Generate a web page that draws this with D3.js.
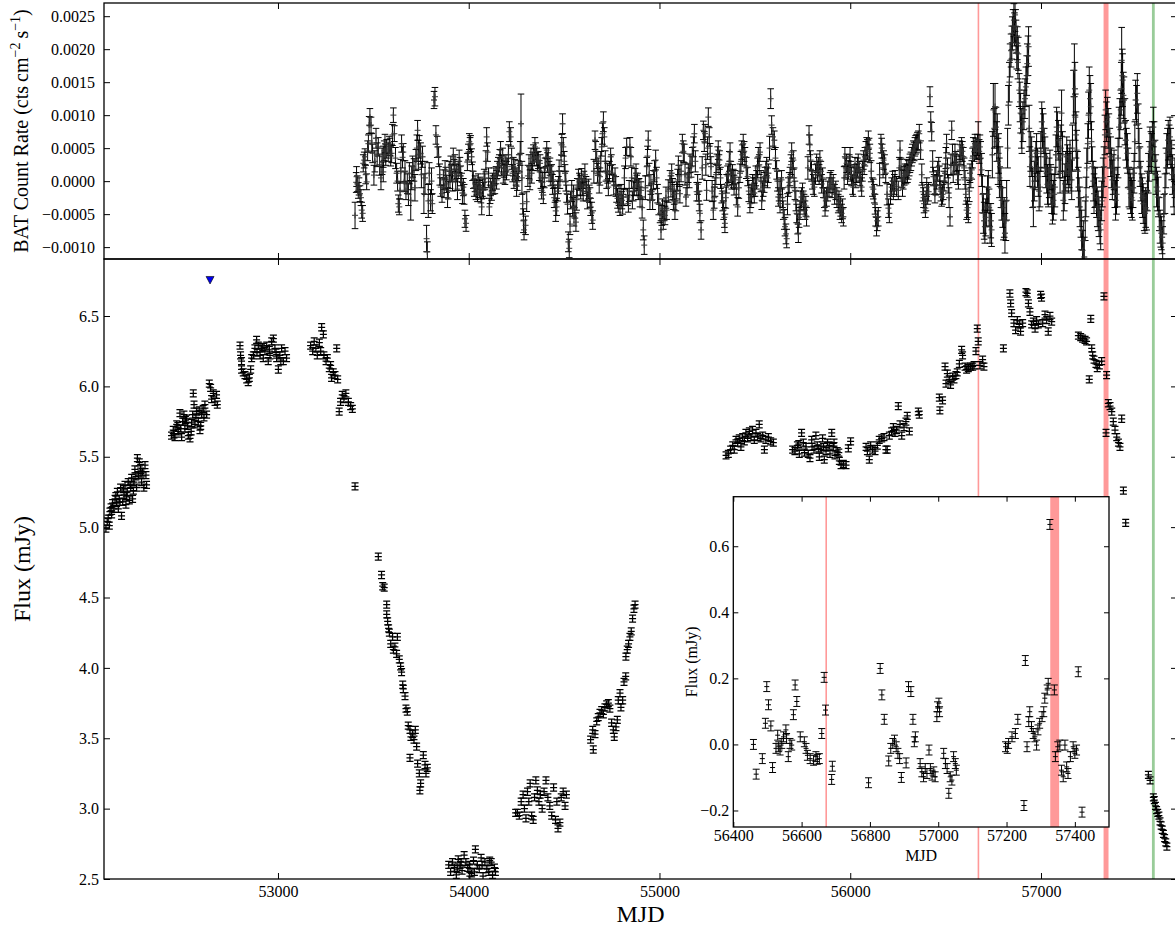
<!DOCTYPE html>
<html><head><meta charset="utf-8">
<script src="https://cdn.jsdelivr.net/npm/d3@7"></script>
<style>body{margin:0;background:#fff} svg{display:block} text{font-family:"Liberation Serif","DejaVu Serif",serif;fill:#000}</style>
</head><body><svg id="c" width="1175" height="931"></svg>
<script>
// ---------------- DATA ----------------
// Swift/BAT count rate: [MJD, rate (1e-4 cts cm^-2 s^-1), error (1e-4)]
const BAT_UNIT = 1e-4;
const batData = [[53404,-5.2,2.0],[53410,-0.2,1.5],[53412,0.7,1.5],[53416,-0.4,1.2],[53421,-1.4,1.2],[53425,-0.8,1.3],[53430,-1.9,1.2],[53435,-2.5,1.2],[53439,-4.4,1.2],[53444,-4.9,1.2],[53447,2.7,1.3],[53452,3.2,1.2],[53456,3.7,1.2],[53460,1.0,1.4],[53465,-0.1,1.2],[53470,4.6,1.5],[53474,5.7,1.3],[53478,8.5,1.3],[53482,9.7,1.3],[53488,8.5,1.2],[53492,5.8,1.4],[53496,4.2,1.4],[53503,0.9,1.5],[53508,3.0,1.6],[53514,6.5,1.5],[53520,4.0,1.8],[53526,5.2,1.4],[53533,2.5,1.6],[53540,0.5,1.8],[53546,3.0,2.0],[53552,3.7,1.6],[53552,1.4,1.5],[53557,4.6,1.5],[53561,5.7,1.4],[53565,4.0,1.6],[53570,4.9,1.4],[53578,4.4,1.4],[53583,5.5,1.3],[53587,5.2,1.3],[53591,3.8,1.5],[53596,4.2,1.4],[53600,7.0,1.6],[53605,10.0,1.1],[53610,7.2,1.2],[53616,3.5,1.6],[53622,1.2,1.5],[53627,0.0,1.5],[53631,-3.4,1.3],[53636,-3.9,1.2],[53640,-1.4,1.3],[53644,1.5,1.8],[53648,5.7,1.3],[53653,3.6,1.6],[53657,4.4,1.3],[53662,-0.1,1.5],[53666,1.5,1.6],[53671,-1.4,1.4],[53678,-0.4,1.5],[53684,-2.0,1.7],[53689,1.2,1.6],[53696,-2.9,3.0],[53701,0.5,1.8],[53706,2.2,1.6],[53713,1.7,1.7],[53718,-1.0,2.0],[53723,3.2,1.6],[53728,5.0,2.0],[53732,7.7,1.5],[53736,4.0,2.2],[53741,5.2,1.7],[53748,4.2,1.6],[53752,1.0,2.0],[53758,3.7,1.6],[53765,-1.9,3.0],[53771,0.5,2.5],[53779,-8.7,2.0],[53783,-10.7,1.5],[53788,-3.0,2.5],[53793,1.2,1.6],[53800,-2.9,1.6],[53805,0.0,2.0],[53809,-3.4,1.5],[53818,12.3,1.3],[53823,12.8,1.4],[53828,7.0,1.4],[53835,5.2,1.6],[53842,3.7,1.5],[53848,1.0,1.6],[53853,-0.9,1.4],[53860,-1.9,1.3],[53867,0.2,1.5],[53871,-1.0,1.5],[53876,1.7,1.4],[53880,0.5,1.6],[53884,-0.4,1.3],[53889,-2.5,1.5],[53893,-1.4,1.3],[53898,1.5,1.5],[53902,0.2,1.3],[53906,2.3,1.5],[53910,1.2,1.3],[53915,0.0,1.5],[53919,3.7,1.3],[53924,1.8,1.5],[53928,2.7,1.3],[53932,0.2,1.6],[53937,1.2,1.3],[53941,-1.2,1.6],[53945,1.7,1.3],[53950,3.0,1.7],[53954,2.2,1.4],[53958,0.8,1.5],[53963,-0.1,1.3],[53967,-1.8,1.6],[53972,-0.9,1.3],[53976,-2.0,1.5],[53980,-5.7,1.3],[53986,-6.4,1.2],[53993,2.9,1.3],[53998,4.4,1.2],[54003,6.0,1.2],[54007,5.5,1.1],[54010,5.7,1.2],[54015,3.7,1.2],[54020,1.5,1.4],[54024,0.2,1.3],[54029,-1.0,1.3],[54033,-0.4,1.2],[54038,-1.5,1.3],[54042,-0.9,1.2],[54046,-1.8,1.3],[54050,-0.1,1.2],[54055,-1.2,1.3],[54059,-0.6,1.2],[54064,-2.0,1.3],[54068,-3.9,1.2],[54072,-1.0,1.3],[54077,-1.4,1.2],[54081,0.4,1.4],[54085,-0.1,1.2],[54090,3.0,1.6],[54094,6.7,1.4],[54099,4.4,1.4],[54104,0.5,1.5],[54108,-3.9,1.3],[54112,-2.0,1.4],[54115,-0.9,1.3],[54120,-1.5,1.4],[54125,-0.1,1.3],[54128,-0.6,1.4],[54132,0.7,1.3],[54137,-0.5,1.4],[54143,0.9,1.3],[54146,0.2,1.4],[54150,1.7,1.3],[54155,2.2,1.4],[54160,2.7,1.3],[54163,3.4,1.4],[54167,4.7,1.3],[54172,2.4,1.5],[54178,3.7,1.3],[54181,1.2,1.5],[54185,1.9,1.3],[54190,1.0,1.5],[54195,2.7,1.3],[54198,1.6,1.4],[54202,2.2,1.3],[54208,4.0,1.5],[54213,7.5,1.5],[54220,6.7,1.4],[54225,3.4,1.6],[54230,1.2,1.3],[54234,2.2,1.4],[54237,0.2,1.3],[54242,1.8,1.5],[54248,0.7,1.3],[54251,-0.8,1.5],[54255,-0.1,1.3],[54260,1.6,1.5],[54265,2.7,1.3],[54270,4.2,1.8],[54274,8.7,4.5],[54279,0.5,2.5],[54283,-3.4,1.6],[54287,-6.0,1.8],[54290,-7.4,1.5],[54298,-6.7,1.4],[54304,-3.1,1.5],[54310,0.8,1.6],[54316,2.2,1.8],[54321,0.2,1.5],[54326,3.4,1.6],[54330,1.2,1.5],[54335,3.0,1.4],[54339,4.2,1.3],[54343,3.6,1.3],[54347,5.2,1.4],[54351,4.5,1.3],[54356,3.7,1.3],[54360,3.0,1.4],[54365,3.2,1.3],[54370,1.6,1.5],[54374,2.7,1.3],[54378,0.5,1.6],[54382,-1.4,1.3],[54386,-0.2,1.5],[54391,-2.1,1.3],[54396,0.5,1.5],[54400,2.0,1.5],[54405,3.6,1.4],[54409,4.7,1.3],[54413,2.8,1.5],[54417,3.7,1.3],[54421,1.5,1.5],[54426,2.2,1.3],[54430,0.8,1.5],[54435,1.2,1.3],[54439,-0.5,1.5],[54443,0.2,1.3],[54448,-2.5,1.5],[54452,-1.9,1.3],[54456,-4.5,1.6],[54461,-3.9,1.3],[54466,-1.5,1.5],[54470,-0.6,1.3],[54474,1.6,1.6],[54478,0.2,1.3],[54484,4.0,1.8],[54488,5.5,1.6],[54492,8.7,1.5],[54496,5.2,1.4],[54501,3.0,1.5],[54505,1.2,1.3],[54509,0.0,1.5],[54513,-1.9,1.3],[54518,-3.5,1.5],[54522,-9.2,1.5],[54527,-10.2,1.4],[54531,-6.5,1.6],[54534,-2.9,1.3],[54540,-1.5,1.6],[54545,-3.9,1.4],[54549,-2.2,1.6],[54552,-5.4,1.4],[54557,-4.0,1.6],[54562,-6.2,1.4],[54566,-2.8,1.6],[54569,-0.9,1.3],[54575,0.3,1.5],[54580,-0.1,1.3],[54584,-0.6,1.5],[54587,-1.4,1.3],[54592,0.4,1.5],[54597,-0.9,1.3],[54600,-1.6,1.4],[54604,0.2,1.3],[54609,1.0,1.6],[54615,-0.6,1.3],[54618,-1.5,1.5],[54622,-2.9,1.3],[54627,-1.2,1.5],[54632,-1.9,1.3],[54636,-2.5,1.5],[54639,-3.9,1.3],[54645,-4.8,1.6],[54650,-5.9,1.4],[54656,1.5,1.8],[54662,6.2,1.4],[54666,4.5,1.5],[54671,3.2,1.3],[54675,1.2,1.5],[54679,2.2,1.3],[54684,-0.2,1.6],[54688,0.7,1.3],[54692,3.0,1.5],[54697,5.2,1.4],[54701,7.2,1.6],[54706,9.0,1.5],[54711,6.7,1.4],[54716,3.0,1.6],[54719,1.5,1.5],[54723,0.2,1.3],[54728,1.2,1.5],[54732,-0.9,1.3],[54738,1.5,1.5],[54744,3.7,1.3],[54748,2.5,1.5],[54754,1.2,1.3],[54760,-0.6,1.5],[54767,0.7,1.3],[54771,-0.8,1.5],[54775,-1.9,1.3],[54780,-2.6,1.5],[54784,-3.4,1.3],[54788,-2.2,1.5],[54793,-3.9,1.3],[54798,-2.0,1.5],[54803,-2.9,1.3],[54807,-3.5,1.5],[54811,-2.4,1.3],[54816,0.5,1.8],[54822,3.5,1.6],[54828,5.2,1.3],[54832,-2.4,1.3],[54837,-3.4,1.3],[54841,-1.5,1.6],[54845,5.2,1.4],[54850,3.7,1.4],[54854,0.5,1.6],[54858,-2.9,1.3],[54863,-1.5,1.5],[54868,-0.9,1.3],[54872,0.4,1.5],[54877,1.2,1.4],[54881,-0.6,1.5],[54885,-0.1,1.3],[54889,-1.3,1.5],[54893,-0.9,1.3],[54898,-2.4,1.5],[54903,-1.4,1.3],[54909,-4.0,1.6],[54915,-7.4,1.5],[54920,-9.7,1.4],[54926,-1.0,1.8],[54933,2.2,1.4],[54937,3.8,1.5],[54941,6.2,1.4],[54946,1.0,1.7],[54950,-2.9,1.4],[54955,-0.5,1.5],[54959,-1.6,1.3],[54964,-2.8,1.5],[54968,0.2,1.4],[54974,1.5,1.6],[54980,3.2,1.5],[54985,0.5,1.6],[54990,-1.9,1.4],[54996,-3.5,1.6],[55003,-4.9,1.4],[55008,-7.4,1.4],[55012,-5.2,1.5],[55016,-4.2,1.5],[55020,-5.9,1.4],[55025,-4.5,1.5],[55029,-5.2,1.4],[55034,-2.5,1.6],[55038,-4.4,1.4],[55046,-1.5,1.7],[55055,0.2,1.4],[55060,-0.8,1.6],[55064,1.2,1.4],[55069,-1.2,1.6],[55073,-2.9,1.4],[55077,-2.0,1.5],[55081,-4.4,1.4],[55086,-3.0,1.5],[55090,-1.4,1.3],[55095,0.2,1.6],[55099,2.4,1.4],[55103,0.8,1.6],[55107,-1.9,1.4],[55113,1.5,1.6],[55120,5.7,1.4],[55125,4.5,1.6],[55130,4.2,1.4],[55134,1.0,1.6],[55139,-2.4,1.4],[55145,-0.5,1.6],[55151,1.2,1.4],[55156,0.5,1.5],[55160,2.7,1.4],[55166,2.2,1.6],[55172,3.7,1.4],[55178,5.2,1.5],[55183,7.2,1.4],[55188,3.0,1.6],[55195,-1.6,1.4],[55200,-0.5,1.5],[55204,-1.6,1.4],[55208,-3.0,1.5],[55212,-4.9,1.4],[55218,-7.4,1.4],[55224,2.0,1.7],[55230,7.7,1.4],[55235,6.0,1.5],[55239,7.2,1.4],[55243,2.5,1.6],[55247,-1.4,1.5],[55252,5.0,1.7],[55256,9.7,1.4],[55261,6.7,1.4],[55266,4.2,1.5],[55270,2.2,1.5],[55276,-1.5,1.6],[55282,-4.4,1.4],[55287,-2.5,1.6],[55291,-0.9,1.4],[55296,1.0,1.5],[55301,2.7,1.4],[55305,3.8,1.4],[55308,4.7,1.4],[55312,2.5,1.5],[55315,3.2,1.4],[55320,0.5,1.6],[55326,-1.9,1.4],[55331,-3.0,1.5],[55336,-4.4,1.4],[55340,-5.5,1.5],[55343,-6.4,1.4],[55348,-2.5,1.6],[55352,-0.4,1.4],[55357,0.8,1.5],[55361,1.2,1.4],[55366,3.0,1.5],[55370,4.4,1.4],[55374,1.5,1.5],[55378,0.2,1.4],[55383,1.0,1.5],[55387,0.4,1.4],[55391,-0.6,1.5],[55396,0.2,1.4],[55403,-2.0,1.6],[55410,-3.9,1.4],[55416,-1.0,1.6],[55422,1.2,1.4],[55427,3.0,1.5],[55431,4.7,1.4],[55435,4.0,1.5],[55439,5.7,1.4],[55444,4.5,1.5],[55448,3.7,1.4],[55455,2.0,1.6],[55462,0.7,1.4],[55468,-1.5,1.6],[55474,-3.4,1.4],[55479,-2.5,1.5],[55483,-1.9,1.4],[55488,-0.5,1.5],[55492,-0.9,1.4],[55497,-1.8,1.5],[55501,-0.9,1.4],[55505,0.8,1.5],[55509,0.2,1.4],[55514,2.0,1.5],[55518,3.7,1.4],[55523,2.5,1.5],[55527,4.4,1.4],[55532,0.0,1.6],[55536,-2.9,1.4],[55540,-1.5,1.5],[55544,-0.9,1.4],[55549,-0.2,1.5],[55553,0.7,1.4],[55558,1.5,1.5],[55562,2.2,1.4],[55566,0.5,1.5],[55571,1.2,1.4],[55577,5.0,1.8],[55583,12.5,1.5],[55588,8.5,1.4],[55595,6.7,1.4],[55602,6.2,1.4],[55608,3.5,1.6],[55614,1.7,1.4],[55618,0.0,1.5],[55623,-2.4,1.4],[55627,-1.5,1.5],[55632,-3.4,1.4],[55636,-1.0,1.5],[55640,0.2,1.4],[55645,-2.5,1.5],[55649,-4.4,1.4],[55654,-5.8,1.5],[55658,-6.9,1.4],[55663,-8.0,1.5],[55667,-8.7,1.4],[55671,-3.5,1.6],[55675,-0.9,1.4],[55680,-0.2,1.5],[55684,0.7,1.4],[55689,2.5,1.5],[55693,4.4,1.4],[55697,2.0,1.5],[55702,3.2,1.4],[55706,0.5,1.5],[55710,-1.4,1.4],[55715,-3.0,1.5],[55719,-4.9,1.4],[55724,-6.5,1.5],[55728,-7.9,1.4],[55732,-5.5,1.5],[55737,-4.4,1.4],[55741,-3.0,1.5],[55745,-2.4,1.4],[55750,-1.8,1.5],[55754,-2.9,1.4],[55758,-3.5,1.5],[55763,-4.4,1.4],[55767,-3.8,1.5],[55771,-5.4,1.4],[55778,2.0,1.7],[55784,7.0,1.4],[55788,5.5,1.5],[55792,3.2,1.4],[55797,1.5,1.5],[55801,0.2,1.4],[55806,-0.5,1.5],[55812,-0.9,1.4],[55818,1.0,1.5],[55824,2.7,1.4],[55828,1.5,1.5],[55833,2.2,1.4],[55837,1.0,1.5],[55841,3.2,1.4],[55846,1.5,1.5],[55850,-0.4,1.4],[55855,0.5,1.5],[55859,-1.1,1.4],[55864,-2.5,1.5],[55868,-3.9,1.4],[55872,-3.0,1.5],[55876,-2.4,1.4],[55882,-1.5,1.5],[55889,-0.9,1.4],[55894,-0.2,1.5],[55899,0.2,1.4],[55905,-1.0,1.5],[55911,-0.4,1.4],[55918,-2.0,1.5],[55924,-1.4,1.4],[55930,-2.5,1.5],[55937,-3.4,1.4],[55941,-3.0,1.5],[55946,-4.4,1.4],[55950,-3.8,1.5],[55955,-4.9,1.4],[55960,-4.2,1.5],[55964,-5.4,1.4],[55968,0.5,1.7],[55972,3.7,1.4],[55977,2.0,1.5],[55981,2.7,1.4],[55986,1.0,1.5],[55990,1.7,1.4],[55995,2.5,1.5],[55999,3.7,1.4],[56003,1.5,1.5],[56007,0.7,1.4],[56012,-0.5,1.5],[56016,-0.9,1.4],[56020,1.0,1.5],[56025,2.2,1.4],[56029,0.5,1.5],[56034,1.2,1.4],[56038,2.0,1.5],[56042,2.7,1.4],[56047,1.5,1.5],[56051,0.7,1.4],[56056,0.0,1.5],[56060,-0.9,1.4],[56064,1.5,1.5],[56069,3.2,1.4],[56073,2.5,1.5],[56077,3.7,1.4],[56082,4.5,1.5],[56086,5.2,1.4],[56090,4.8,1.5],[56095,6.2,1.4],[56099,5.0,1.5],[56103,4.2,1.4],[56110,1.5,1.6],[56116,-0.9,1.4],[56121,-1.2,1.5],[56126,-1.9,1.4],[56130,-3.5,1.5],[56133,-5.4,1.4],[56138,-6.9,1.4],[56142,-6.0,1.5],[56147,-5.4,1.4],[56154,1.0,1.7],[56161,5.7,1.4],[56165,5.0,1.5],[56168,4.2,1.4],[56172,2.0,1.5],[56175,3.2,1.4],[56180,2.5,1.5],[56186,1.2,1.4],[56193,-2.0,1.6],[56200,-4.1,1.4],[56205,-4.9,1.4],[56211,-2.0,1.5],[56217,-0.9,1.4],[56222,0.0,1.5],[56226,-1.4,1.4],[56231,-0.5,1.5],[56235,0.2,1.4],[56243,-0.8,1.5],[56252,-1.4,1.4],[56257,2.0,1.6],[56261,4.7,1.4],[56266,2.0,1.5],[56270,0.4,1.4],[56274,-0.9,1.4],[56278,0.2,1.4],[56283,0.8,1.4],[56287,1.2,1.4],[56292,1.0,1.4],[56296,1.9,1.4],[56300,1.2,1.4],[56304,1.7,1.4],[56309,2.2,1.4],[56313,2.7,1.4],[56318,3.0,1.4],[56322,3.7,1.4],[56326,4.2,1.4],[56331,4.7,1.4],[56335,4.5,1.4],[56339,5.2,1.4],[56343,5.5,1.4],[56348,5.7,1.4],[56352,6.0,1.4],[56357,6.2,1.4],[56362,7.2,1.4],[56369,4.7,1.4],[56375,1.0,1.6],[56380,-1.6,1.4],[56384,-2.5,1.5],[56387,-3.4,1.4],[56394,-4.1,1.4],[56397,-3.0,1.5],[56401,-0.9,1.4],[56406,-2.0,1.5],[56411,-1.6,1.4],[56418,12.8,1.5],[56422,9.0,1.5],[56427,7.5,1.4],[56432,3.0,1.6],[56436,0.7,1.4],[56440,-0.5,1.5],[56444,-1.9,1.4],[56449,-0.6,1.5],[56453,0.2,1.4],[56458,1.5,1.5],[56464,2.2,1.4],[56468,0.8,1.5],[56471,-0.6,1.4],[56475,-1.5,1.5],[56479,-2.4,1.4],[56484,-2.0,1.5],[56488,-1.4,1.4],[56493,0.0,1.5],[56497,1.2,1.4],[56501,3.5,1.6],[56505,5.7,1.4],[56510,2.0,1.5],[56514,-0.4,1.4],[56518,-2.5,1.5],[56523,-5.4,1.4],[56528,2.5,1.6],[56532,7.7,1.4],[56536,4.0,1.6],[56540,1.2,1.4],[56545,2.5,1.5],[56549,4.2,1.4],[56554,3.0,1.5],[56558,2.4,1.4],[56563,1.0,1.5],[56567,0.2,1.4],[56571,2.5,1.5],[56575,4.7,1.4],[56580,4.0,1.5],[56584,5.2,1.4],[56588,4.5,1.5],[56593,3.7,1.4],[56597,2.0,1.5],[56602,0.2,1.4],[56606,-2.0,1.5],[56610,-4.4,1.4],[56615,-4.0,1.5],[56619,-4.9,1.4],[56624,-1.5,1.6],[56628,1.2,1.4],[56632,0.5,1.5],[56637,1.7,1.4],[56641,3.5,1.5],[56645,5.2,1.4],[56650,4.5,1.5],[56654,5.7,1.4],[56658,5.0,1.5],[56663,4.7,1.4],[56667,5.5,1.6],[56671,6.2,2.8],[56676,4.5,1.8],[56680,5.2,1.8],[56684,3.5,2.5],[56689,1.7,2.5],[56693,-2.0,2.8],[56698,-4.9,3.0],[56702,-6.0,2.8],[56706,-6.9,2.5],[56710,-5.5,2.8],[56715,-3.9,3.0],[56720,-2.0,2.8],[56724,-0.9,2.5],[56728,-4.0,2.8],[56733,-6.9,2.5],[56737,-6.0,2.6],[56741,-7.4,2.5],[56745,4.0,3.5],[56750,10.8,4.0],[56755,8.0,3.0],[56759,11.3,3.5],[56764,8.2,3.0],[56768,6.0,3.0],[56771,7.2,3.0],[56775,3.0,3.5],[56778,4.2,3.0],[56782,0.5,3.0],[56785,2.2,3.0],[56790,-1.0,3.0],[56794,-2.9,3.0],[56799,-4.0,3.0],[56803,-5.9,3.0],[56807,-5.5,3.0],[56811,-7.9,3.0],[56816,-6.0,3.0],[56820,-2.9,3.0],[56825,5.0,3.0],[56829,11.5,3.0],[56834,15.0,3.0],[56838,18.3,2.5],[56843,19.8,2.5],[56847,21.0,2.5],[56850,22.4,2.5],[56854,23.5,2.5],[56858,24.4,2.5],[56861,23.0,2.5],[56864,25.2,2.5],[56867,23.5,2.5],[56869,21.9,2.5],[56873,19.5,2.5],[56876,20.9,2.5],[56879,18.0,2.5],[56881,19.3,2.5],[56886,13.8,2.5],[56890,12.0,3.0],[56893,10.3,3.0],[56897,8.0,3.0],[56900,7.2,3.0],[56905,9.0,3.0],[56911,10.8,3.0],[56916,12.5,3.0],[56921,14.3,3.0],[56925,16.0,3.0],[56928,17.8,3.0],[56932,19.0,3.0],[56935,20.4,3.0],[56938,8.0,3.5],[56942,2.2,3.0],[56946,4.5,3.0],[56951,3.7,3.0],[56956,-1.0,3.0],[56960,-3.9,3.0],[56965,0.0,3.0],[56969,1.7,3.0],[56973,3.0,3.0],[56977,4.2,3.0],[56982,2.0,3.0],[56986,0.7,3.0],[56990,-1.5,3.0],[56995,-0.9,3.0],[56999,4.5,3.0],[57004,9.0,3.0],[57008,8.0,3.0],[57012,7.2,3.0],[57017,5.0,3.0],[57021,3.7,3.0],[57025,2.0,3.0],[57030,1.2,3.0],[57034,-0.5,3.0],[57038,-0.9,3.0],[57043,0.5,3.0],[57047,1.7,3.0],[57052,-0.5,3.0],[57056,-1.9,3.0],[57060,-3.5,3.0],[57065,-2.9,3.0],[57069,-2.0,3.0],[57073,-0.9,3.0],[57078,4.0,3.0],[57082,8.2,3.0],[57086,7.5,3.0],[57091,6.2,3.0],[57095,3.5,3.0],[57100,1.2,3.0],[57104,5.0,3.5],[57108,10.3,3.5],[57113,4.0,3.5],[57117,-2.9,3.0],[57122,-1.5,3.0],[57126,-0.4,3.0],[57130,1.5,3.0],[57135,3.7,3.0],[57139,2.5,3.0],[57143,1.2,3.0],[57148,2.0,3.0],[57152,3.2,3.0],[57157,1.5,3.0],[57161,0.2,3.0],[57165,5.0,3.5],[57170,12.8,4.0],[57175,16.8,4.0],[57178,14.0,4.0],[57180,9.7,3.5],[57184,7.0,3.5],[57187,4.7,3.0],[57192,1.5,3.0],[57196,-0.9,3.0],[57200,-2.5,3.0],[57204,-3.9,3.0],[57209,-5.5,3.0],[57213,-7.4,3.0],[57218,-10.5,3.0],[57222,-9.0,3.0],[57227,-11.5,3.0],[57232,-6.0,3.0],[57236,-2.4,3.0],[57240,2.0,3.0],[57245,5.7,3.0],[57249,10.0,3.5],[57253,13.8,3.5],[57257,12.5,3.5],[57261,11.3,3.5],[57265,6.0,3.0],[57269,2.2,3.0],[57274,0.0,3.0],[57278,-1.9,3.0],[57282,-1.0,3.0],[57286,-0.9,3.0],[57291,-2.5,3.0],[57295,-3.9,3.0],[57300,-4.5,3.0],[57304,-5.4,3.0],[57309,-6.5,3.0],[57313,-7.4,3.0],[57318,-3.0,3.0],[57322,-0.9,3.0],[57326,0.5,3.0],[57330,2.2,3.0],[57335,7.0,3.0],[57339,10.8,3.0],[57343,9.0,3.0],[57348,9.7,3.0],[57352,8.0,3.0],[57356,7.2,3.0],[57361,5.0,3.0],[57365,3.7,3.0],[57369,2.0,3.0],[57374,0.2,3.0],[57378,1.0,3.0],[57383,1.7,3.0],[57387,-1.0,3.0],[57391,-2.9,3.0],[57396,-2.0,3.0],[57400,-0.9,3.0],[57404,3.5,3.0],[57409,8.2,3.0],[57413,9.5,3.0],[57418,10.8,3.0],[57421,14.0,4.0],[57423,18.3,5.0],[57426,16.0,4.0],[57428,15.3,4.0],[57432,13.0,3.5],[57435,12.3,3.5],[57440,9.0,3.5],[57444,6.2,3.0],[57448,5.0,3.0],[57453,4.2,3.0],[57457,2.0,3.0],[57461,-0.9,3.0],[57466,-1.2,3.0],[57470,-1.9,3.0],[57474,-2.5,3.0],[57479,-2.9,3.0],[57483,-1.0,3.0],[57488,1.2,3.0],[57492,6.0,3.0],[57496,12.3,3.0],[57501,11.5,3.0],[57505,13.3,3.0],[57510,8.7,3.0],[57514,5.0,3.0],[57519,2.2,3.0],[57523,0.0,3.0],[57528,-1.9,3.0],[57532,-2.5,3.0],[57536,-3.4,3.0],[57541,-4.5,3.0],[57545,-4.9,3.0],[57549,-4.0,3.0],[57554,-4.4,3.0],[57558,-1.5,3.0],[57563,1.2,3.0],[57567,3.0,3.0],[57571,5.2,3.0],[57576,4.5,3.0],[57580,4.2,3.0],[57584,6.0,3.0],[57589,8.2,3.0],[57593,6.0,3.0],[57598,3.2,3.0],[57602,1.0,3.0],[57606,-0.9,3.0],[57611,-1.5,3.0],[57615,-2.4,3.0],[57620,-5.0,2.5],[57624,-6.9,2.5],[57628,-7.5,2.5],[57631,-7.9,2.5],[57635,-8.5,2.5],[57638,-9.4,2.5],[57644,-5.0,3.0],[57650,-1.9,3.0],[57655,2.0,3.0],[57659,4.2,3.0],[57663,5.0,3.0],[57667,6.2,3.0],[57672,5.5,3.0],[57676,6.7,3.0],[57680,5.0,3.0],[57685,3.2,3.0],[57689,1.0,3.0],[57694,-0.9,3.0],[57698,-2.0,3.0],[57702,0.5,3.0],[57706,2.5,3.0]];

// Optical flux: [MJD, flux (mJy)]
const FLUX_ERR = 0.025;
const fluxData = [
[52098,4.99],[52105,5.04],[52110,5.06],[52116,5.01],[52119,5.11],[52125,5.14],[52128,5.09],[52133,5.17],[52140,5.13],[52146,5.2],[52150,5.22],[52154,5.17],[52158,5.25],[52163,5.13],[52168,5.2],[52172,5.18],[52175,5.28],[52180,5.08],[52186,5.18],[52190,5.27],[52193,5.23],[52198,5.3],[52203,5.16],[52205,5.22],[52210,5.25],[52215,5.32],[52221,5.19],[52225,5.3],[52228,5.28],[52233,5.35],[52238,5.2],[52242,5.26],[52245,5.32],[52250,5.41],[52255,5.36],[52259,5.28],[52263,5.49],[52268,5.37],[52273,5.46],[52280,5.42],[52282,5.38],[52285,5.32],[52290,5.39],[52297,5.28],[52303,5.44],[52308,5.37],[52311,5.3],
[52442,5.65],[52451,5.69],[52455,5.66],[52460,5.64],[52469,5.73],[52475,5.72],[52477,5.68],[52486,5.81],[52490,5.7],[52495,5.64],[52500,5.75],[52507,5.8],[52512,5.7],[52515,5.76],[52521,5.77],[52525,5.72],[52530,5.65],[52539,5.63],[52545,5.68],[52547,5.74],[52553,5.8],[52556,5.95],[52560,5.87],[52565,5.73],[52570,5.78],[52574,5.82],[52582,5.75],[52587,5.83],[52591,5.69],[52595,5.72],[52600,5.8],[52608,5.84],[52612,5.78],[52617,5.87],[52626,5.8],[52640,6.02],[52647,5.99],[52652,5.91],[52661,5.95],[52670,5.89],[52678,5.94],[52682,5.87],
[52801,6.29],[52804,6.22],[52809,6.18],[52809,6.12],[52818,6.1],[52827,6.08],[52836,6.05],[52844,6.03],[52850,6.06],[52857,6.12],[52862,6.2],[52871,6.22],[52879,6.27],[52888,6.33],[52890,6.24],[52897,6.29],[52906,6.22],[52914,6.27],[52920,6.28],[52923,6.2],[52932,6.25],[52941,6.29],[52949,6.18],[52955,6.26],[52958,6.22],[52967,6.32],[52976,6.34],[52984,6.27],[52990,6.24],[52993,6.2],[53002,6.12],[53010,6.22],[53015,6.18],[53019,6.27],[53028,6.18],[53037,6.25],[53045,6.2],
[53171,6.29],[53182,6.25],[53190,6.32],[53199,6.27],[53206,6.22],[53217,6.31],[53224,6.25],[53229,6.42],[53238,6.37],[53241,6.22],[53252,6.18],[53259,6.2],[53269,6.13],[53276,6.15],[53281,6.06],[53290,6.1],[53299,6.08],[53308,6.27],[53313,6.05],[53321,5.82],[53328,5.89],[53337,5.94],[53346,5.91],[53356,5.95],[53369,5.89],[53381,5.86],[53390,5.84],[53404,5.29],
[53526,4.79],[53543,4.66],[53549,4.58],[53557,4.57],[53570,4.45],[53570,4.38],[53575,4.33],[53580,4.28],[53584,4.25],[53591,4.17],[53601,4.22],[53605,4.13],[53613,4.15],[53622,4.1],[53626,4.22],[53636,4.06],[53643,4.01],[53648,3.97],[53654,3.88],[53657,3.85],[53666,3.8],[53671,3.71],[53678,3.69],[53683,3.59],[53692,3.56],[53697,3.51],[53692,3.36],[53706,3.53],[53713,3.49],[53720,3.56],[53727,3.44],[53732,3.32],[53741,3.25],[53748,3.18],[53744,3.13],[53762,3.38],[53771,3.31],[53776,3.25],[53783,3.29],
[53895,2.6],[53905,2.55],[53915,2.62],[53925,2.58],[53935,2.53],[53940,2.57],[53945,2.64],[53955,2.6],[53960,2.62],[53965,2.56],[53976,2.67],[53985,2.62],[53995,2.58],[54005,2.6],[54006,2.52],[54015,2.54],[54025,2.63],[54030,2.55],[54035,2.71],[54045,2.6],[54055,2.57],[54065,2.65],[54070,2.6],[54075,2.52],[54085,2.62],[54095,2.57],[54105,2.55],[54110,2.63],[54118,2.62],[54125,2.53],[54135,2.58],[54140,2.55],
[54246,2.97],[54255,2.97],[54265,2.95],[54275,3.05],[54285,3.1],[54292,3.0],[54300,2.93],[54308,3.12],[54315,3.05],[54322,3.18],[54330,2.95],[54338,2.92],[54345,3.08],[54352,3.2],[54360,3.13],[54368,3.05],[54375,3.1],[54385,3.0],[54395,3.12],[54405,3.2],[54415,3.08],[54425,3.02],[54435,2.95],[54445,3.15],[54455,2.92],[54462,3.05],[54468,2.86],[54478,2.9],[54485,3.08],[54495,3.12],[54505,3.02],[54512,3.1],
[54639,3.49],[54650,3.56],[54653,3.42],[54662,3.53],[54671,3.62],[54679,3.65],[54688,3.68],[54697,3.7],[54706,3.67],[54714,3.72],[54723,3.74],[54732,3.75],[54740,3.71],[54749,3.61],[54758,3.56],[54763,3.51],[54772,3.58],[54779,3.63],[54784,3.77],[54793,3.82],[54798,3.72],[54807,3.77],[54814,3.9],[54823,3.94],[54824,4.08],[54831,4.13],[54838,4.17],[54845,4.22],[54852,4.26],[54859,4.35],[54866,4.42],[54872,4.45],
[55349,5.51],[55361,5.52],[55373,5.55],[55384,5.58],[55392,5.55],[55401,5.62],[55410,5.6],[55418,5.63],[55427,5.57],[55436,5.64],[55445,5.61],[55453,5.67],[55462,5.63],[55471,5.68],[55480,5.64],[55488,5.69],[55497,5.62],[55506,5.67],[55515,5.64],[55523,5.73],[55532,5.63],[55541,5.65],[55550,5.55],[55558,5.62],[55571,5.64],[55583,5.61],[55597,5.6],
[55698,5.55],[55710,5.54],[55723,5.58],[55730,5.59],[55733,5.52],[55745,5.67],[55754,5.6],[55760,5.53],[55768,5.57],[55780,5.52],[55789,5.49],[55798,5.62],[55800,5.57],[55810,5.55],[55820,5.65],[55827,5.58],[55835,5.56],[55838,5.5],[55847,5.55],[55855,5.63],[55860,5.57],[55864,5.48],[55873,5.54],[55881,5.6],[55890,5.58],[55894,5.52],[55903,5.67],[55911,5.57],[55915,5.6],[55920,5.51],[55932,5.54],[55940,5.53],[55943,5.47],[55952,5.44],[55964,5.45],[55978,5.44],[55990,5.56],[56002,5.61],
[56083,5.57],[56090,5.54],[56100,5.48],[56107,5.58],[56117,5.55],[56130,5.54],[56142,5.58],[56152,5.62],[56165,5.63],[56177,5.64],[56187,5.55],[56194,5.55],[56205,5.65],[56217,5.68],[56226,5.71],[56235,5.67],[56243,5.69],[56252,5.86],[56261,5.73],[56270,5.65],[56282,5.71],[56292,5.75],[56299,5.79],[56310,5.68],[56357,5.82],[56362,5.8],
[56467,5.92],[56470,5.83],[56484,5.9],[56497,6.14],[56502,6.02],[56509,6.09],[56519,6.05],[56526,6.01],[56537,6.07],[56544,6.05],[56554,6.08],[56561,6.1],[56572,6.16],[56584,6.26],[56589,6.22],[56602,6.14],[56610,6.12],[56619,6.13],[56631,6.14],[56642,6.14],[56649,6.15],[56659,6.25],[56666,6.41],[56671,6.32],[56680,6.15],[56694,6.19],[56701,6.14],[56803,6.27],
[56837,6.66],[56841,6.59],[56846,6.52],[56858,6.45],[56867,6.4],[56876,6.47],[56886,6.44],[56893,6.39],[56904,6.45],[56921,6.67],[56928,6.66],[56934,6.59],[56942,6.53],[56951,6.44],[56960,6.46],[56969,6.41],[56977,6.47],[56986,6.44],[56998,6.65],[57003,6.63],[57009,6.45],[57021,6.51],[57030,6.47],[57038,6.39],[57047,6.5],[57056,6.46],
[57196,6.36],[57208,6.35],[57218,6.34],[57231,6.33],[57239,6.32],[57253,6.05],[57261,6.48],[57266,6.27],[57271,6.22],[57278,6.19],[57288,6.16],[57295,6.13],[57306,6.15],[57318,6.18],[57330,6.64],[57341,5.67],[57344,6.08],[57353,5.88],[57362,5.86],[57371,5.82],[57379,5.75],[57388,5.69],[57397,5.64],[57406,5.6],[57414,5.57],[57423,5.77],[57432,5.26],[57444,5.03],
[57563,3.24],[57572,3.2],[57589,3.08],[57594,3.06],[57600,3.02],[57606,2.99],[57612,2.97],[57618,2.95],[57624,2.91],[57630,2.88],[57636,2.85],[57642,2.82],[57648,2.79],[57654,2.76],[57660,2.73]];

// Upper limit (blue triangle): [MJD, flux]
const upperLimit = [[52644, 6.756]];

// Inset (residual flux): [MJD, flux (mJy)]
const INSET_ERR = 0.015;
const insetData = [[56459,0.0],[56467,-0.09],[56485,-0.043],[56494,0.064],[56498,0.175],[56503,0.12],[56510,0.056],[56515,-0.07],[56525,-0.012],[56530,0.028],[56533,-0.007],[56537,-0.017],[56542,0.003],[56547,0.023],[56554,0.044],[56556,0.018],[56561,-0.037],[56566,0.003],[56571,-0.002],[56576,0.09],[56581,0.18],[56586,0.13],[56596,0.023],[56608,0.008],[56613,-0.012],[56617,-0.033],[56625,-0.043],[56635,-0.048],[56642,-0.037],[56646,-0.045],[56652,-0.043],[56659,0.033],[56666,0.203],[56670,0.104],[56688,-0.106],[56690,-0.066],[56796,-0.116],[56830,0.23],[56835,0.15],[56842,0.076],[56855,-0.05],[56861,-0.012],[56867,0.003],[56872,0.013],[56877,-0.007],[56882,-0.027],[56887,-0.043],[56892,-0.1],[56906,-0.056],[56913,0.175],[56920,0.16],[56926,0.076],[56930,0.008],[56933,0.023],[56947,-0.058],[56952,-0.083],[56957,-0.098],[56962,-0.073],[56967,-0.088],[56973,-0.017],[56977,-0.073],[56982,-0.093],[56987,-0.083],[56991,-0.098],[56996,0.084],[56998,0.114],[57002,0.125],[57004,0.099],[57016,-0.027],[57021,-0.058],[57026,-0.073],[57031,-0.148],[57035,-0.098],[57040,-0.108],[57045,-0.037],[57050,-0.058],[57053,-0.078],[57197,-0.007],[57202,-0.012],[57206,0.003],[57216,0.023],[57226,0.033],[57233,0.076],[57251,-0.185],[57255,0.254],[57260,-0.007],[57265,0.069],[57268,0.099],[57273,0.054],[57278,0.033],[57283,0.023],[57288,-0.002],[57292,0.044],[57297,0.064],[57304,0.084],[57309,0.099],[57312,0.14],[57319,0.165],[57322,0.185],[57327,0.666],[57340,0.165],[57343,-0.037],[57350,-0.007],[57356,-0.002],[57361,-0.078],[57366,-0.098],[57371,-0.002],[57376,-0.068],[57380,-0.088],[57387,-0.037],[57395,-0.007],[57400,-0.027],[57405,-0.017],[57410,0.22],[57421,-0.205]];

// Event markers
const eventLine = [56672];          // thin red line
const eventBand = [[57328, 57354]]; // red band
const greenLine = [57589];          // green line

// Axis domains and ticks
const mjdDomain = [52088, 57713];
const batDomain = [-0.00118, 0.0027];
const fluxDomain = [2.5, 6.905];
const insetMjdDomain = [56400, 57500];
const insetFluxDomain = [-0.25, 0.75];
const mjdTicks = [53000, 54000, 55000, 56000, 57000];
const batTicks = [-0.001, -0.0005, 0, 0.0005, 0.001, 0.0015, 0.002, 0.0025];
const fluxTicks = [2.5, 3.0, 3.5, 4.0, 4.5, 5.0, 5.5, 6.0, 6.5];
const insetMjdTicks = [56400, 56600, 56800, 57000, 57200, 57400];
const insetFluxTicks = [-0.2, 0.0, 0.2, 0.4, 0.6];

// ---------------- LAYOUT ----------------
const FONT = "'Liberation Serif','DejaVu Serif',serif";
const PL = 104, PR = 1177, T1 = 3, MID = 259, B2 = 879;
const INS = {l: 733.3, r: 1109, t: 496.7, b: 827};

const svg = d3.select("#c");
svg.append("rect").attr("width", 1175).attr("height", 931).attr("fill", "#fff");
const defs = svg.append("defs");
function clip(id, x0, y0, x1, y1) {
  defs.append("clipPath").attr("id", id).append("rect")
    .attr("x", x0).attr("y", y0).attr("width", x1 - x0).attr("height", y1 - y0);
}
clip("cTop", PL, T1, PR, MID);
clip("cBot", PL, MID, PR, B2);
clip("cAll", PL, T1, PR, B2);
clip("cIns", INS.l, INS.t, INS.r, INS.b);

const x = d3.scaleLinear().domain(mjdDomain).range([PL, PR]);
const yB = d3.scaleLinear().domain(batDomain).range([MID, T1]);
const yF = d3.scaleLinear().domain(fluxDomain).range([B2, MID]);
const xI = d3.scaleLinear().domain(insetMjdDomain).range([INS.l, INS.r]);
const yI = d3.scaleLinear().domain(insetFluxDomain).range([INS.b, INS.t]);

const RED = "#ff9999", GREEN = "#99cc99";

// vertical markers across both main panels
const vl = svg.append("g").attr("clip-path", "url(#cAll)");
vl.selectAll(".ev").data(eventLine).join("line")
  .attr("x1", d => x(d)).attr("x2", d => x(d)).attr("y1", T1).attr("y2", B2)
  .attr("stroke", RED).attr("stroke-width", 1.6);
vl.selectAll(".band").data(eventBand).join("rect")
  .attr("x", d => x(d[0])).attr("width", d => x(d[1]) - x(d[0]))
  .attr("y", T1).attr("height", B2 - T1).attr("fill", RED);
vl.selectAll(".gl").data(greenLine).join("line")
  .attr("x1", d => x(d)).attr("x2", d => x(d)).attr("y1", T1).attr("y2", B2)
  .attr("stroke", GREEN).attr("stroke-width", 2.8);

// error-bar path builder
function ebar(px, yc, ylo, yhi, cap, mark) {
  return `M${px},${yhi}V${ylo}M${px - cap},${yhi}H${px + cap}M${px - cap},${ylo}H${px + cap}M${px - mark},${yc}H${px + mark}`;
}

// top panel: BAT
const gTop = svg.append("g").attr("clip-path", "url(#cTop)");
gTop.selectAll("path.b").data(batData).join("path")
  .attr("d", d => {
    const v = d[1] * BAT_UNIT, e = d[2] * BAT_UNIT, px = x(d[0]);
    return ebar(px, yB(v), yB(v - e), yB(v + e), 3.3, 0);
  })
  .attr("fill", "none").attr("stroke", "#000").attr("stroke-width", 1);
gTop.selectAll("path.m").data(batData).join("path")
  .attr("d", d => {
    const px = x(d[0]), py = yB(d[1] * BAT_UNIT);
    return `M${px - 3},${py}H${px + 3}M${px},${py - 3}V${py + 3}`;
  })
  .attr("fill", "none").attr("stroke", "#333").attr("stroke-width", 1.3).attr("opacity", 0.8);

// bottom panel: flux
const gBot = svg.append("g").attr("clip-path", "url(#cBot)");
gBot.selectAll("path.f").data(fluxData).join("path")
  .attr("d", d => {
    const px = x(d[0]);
    return ebar(px, yF(d[1]), yF(d[1] - FLUX_ERR), yF(d[1] + FLUX_ERR), 3.5, 3.5);
  })
  .attr("fill", "none").attr("stroke", "#000").attr("stroke-width", 1.25);
gBot.selectAll("path.ul").data(upperLimit).join("path")
  .attr("d", d => {
    const px = x(d[0]), py = yF(d[1]);
    return `M${px - 4},${py - 3.5}L${px + 4},${py - 3.5}L${px},${py + 4}Z`;
  })
  .attr("fill", "#0000ee").attr("stroke", "#000").attr("stroke-width", 0.6);

// axes helpers
function styleAxis(g) {
  g.attr("font-family", FONT).attr("font-size", 16);
  g.select(".domain").remove();
  g.selectAll(".tick line").attr("stroke", "#000").attr("stroke-width", 1);
  g.selectAll(".tick text").attr("fill", "#000");
}
function frame(x0, y0, x1, y1) {
  svg.append("rect").attr("x", x0).attr("y", y0).attr("width", x1 - x0).attr("height", y1 - y0)
    .attr("fill", "none").attr("stroke", "#000").attr("stroke-width", 1.3);
}

// top panel axes
styleAxis(svg.append("g").attr("transform", `translate(${PL},0)`)
  .call(d3.axisLeft(yB).tickValues(batTicks).tickSize(-6).tickPadding(9).tickFormat(d3.format(".4f"))));
styleAxis(svg.append("g").attr("transform", `translate(${PR},0)`)
  .call(d3.axisRight(yB).tickValues(batTicks).tickSize(-6).tickFormat(() => "")));
styleAxis(svg.append("g").attr("transform", `translate(0,${MID})`)
  .call(d3.axisBottom(x).tickValues(mjdTicks).tickSize(-6).tickFormat(() => "")));
styleAxis(svg.append("g").attr("transform", `translate(0,${T1})`)
  .call(d3.axisTop(x).tickValues(mjdTicks).tickSize(-6).tickFormat(() => "")));
frame(PL, T1, PR, MID);

// bottom panel axes
styleAxis(svg.append("g").attr("transform", `translate(${PL},0)`)
  .call(d3.axisLeft(yF).tickValues(fluxTicks).tickSize(-6).tickPadding(5).tickFormat(d3.format(".1f"))));
styleAxis(svg.append("g").attr("transform", `translate(${PR},0)`)
  .call(d3.axisRight(yF).tickValues(fluxTicks).tickSize(-6).tickFormat(() => "")));
styleAxis(svg.append("g").attr("transform", `translate(0,${B2})`)
  .call(d3.axisBottom(x).tickValues(mjdTicks).tickSize(-6).tickPadding(7).tickFormat(d3.format("d"))));
styleAxis(svg.append("g").attr("transform", `translate(0,${MID})`)
  .call(d3.axisTop(x).tickValues(mjdTicks).tickSize(-6).tickFormat(() => "")));
frame(PL, MID, PR, B2);

// ---------------- INSET ----------------
svg.append("rect").attr("x", INS.l).attr("y", INS.t).attr("width", INS.r - INS.l).attr("height", INS.b - INS.t)
  .attr("fill", "#fff");
const gI = svg.append("g").attr("clip-path", "url(#cIns)");
gI.selectAll(".iev").data(eventLine).join("line")
  .attr("x1", d => xI(d)).attr("x2", d => xI(d)).attr("y1", INS.t).attr("y2", INS.b)
  .attr("stroke", RED).attr("stroke-width", 1.6);
gI.selectAll(".iband").data(eventBand).join("rect")
  .attr("x", d => xI(d[0])).attr("width", d => xI(d[1]) - xI(d[0]))
  .attr("y", INS.t).attr("height", INS.b - INS.t).attr("fill", RED);
gI.selectAll(".igl").data(greenLine).join("line")
  .attr("x1", d => xI(d)).attr("x2", d => xI(d)).attr("y1", INS.t).attr("y2", INS.b)
  .attr("stroke", GREEN).attr("stroke-width", 2.8);
gI.selectAll("path.i").data(insetData).join("path")
  .attr("d", d => {
    const px = xI(d[0]);
    return ebar(px, yI(d[1]), yI(d[1] - INSET_ERR), yI(d[1] + INSET_ERR), 3.5, 2.5);
  })
  .attr("fill", "none").attr("stroke", "#000").attr("stroke-width", 1);

styleAxis(svg.append("g").attr("transform", `translate(${INS.l},0)`)
  .call(d3.axisLeft(yI).tickValues(insetFluxTicks).tickSize(-5).tickPadding(4).tickFormat(d3.format(".1f"))));
styleAxis(svg.append("g").attr("transform", `translate(${INS.r},0)`)
  .call(d3.axisRight(yI).tickValues(insetFluxTicks).tickSize(-5).tickFormat(() => "")));
styleAxis(svg.append("g").attr("transform", `translate(0,${INS.b})`)
  .call(d3.axisBottom(xI).tickValues(insetMjdTicks).tickSize(-5).tickPadding(3).tickFormat(d3.format("d"))));
styleAxis(svg.append("g").attr("transform", `translate(0,${INS.t})`)
  .call(d3.axisTop(xI).tickValues(insetMjdTicks).tickSize(-5).tickFormat(() => "")));
frame(INS.l, INS.t, INS.r, INS.b);

// ---------------- LABELS ----------------
const batLabel = svg.append("text").attr("transform", `translate(28,${(T1 + MID) / 2}) rotate(-90)`)
  .attr("text-anchor", "middle").attr("font-family", FONT).attr("font-size", 20);
batLabel.append("tspan").text("BAT Count Rate (cts\u2009cm");
batLabel.append("tspan").attr("dy", -8).attr("font-size", 14).text("\u22122");
batLabel.append("tspan").attr("dy", 8).text("\u2009s");
batLabel.append("tspan").attr("dy", -8).attr("font-size", 14).text("\u22121");
batLabel.append("tspan").attr("dy", 8).text(")");

svg.append("text").attr("transform", `translate(30,${(MID + B2) / 2}) rotate(-90)`)
  .attr("text-anchor", "middle").attr("font-family", FONT).attr("font-size", 24).text("Flux (mJy)");
svg.append("text").attr("x", (PL + PR) / 2).attr("y", 922)
  .attr("text-anchor", "middle").attr("font-family", FONT).attr("font-size", 24).text("MJD");

svg.append("text").attr("transform", `translate(697,${(INS.t + INS.b) / 2}) rotate(-90)`)
  .attr("text-anchor", "middle").attr("font-family", FONT).attr("font-size", 16).text("Flux (mJy)");
svg.append("text").attr("x", (INS.l + INS.r) / 2).attr("y", 861)
  .attr("text-anchor", "middle").attr("font-family", FONT).attr("font-size", 16).text("MJD");
</script>
</body></html>
